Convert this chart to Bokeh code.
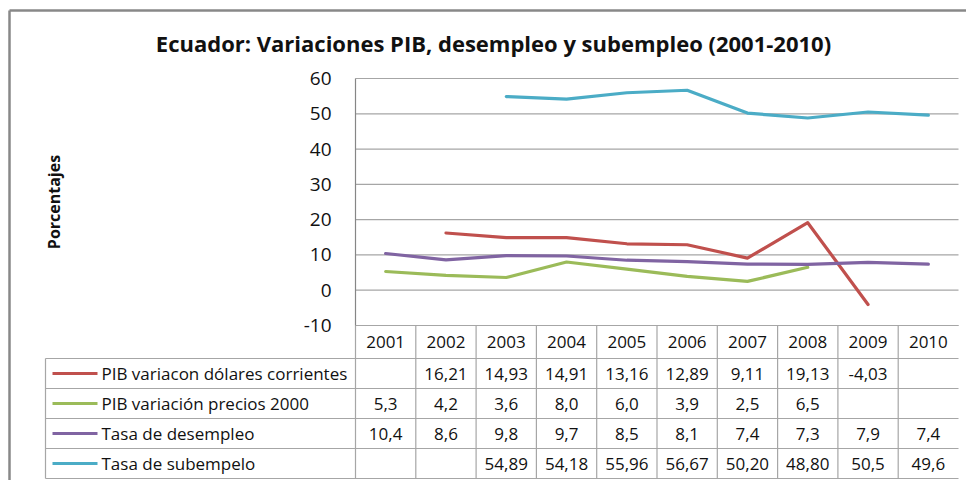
from bokeh.plotting import figure
from bokeh.models import Range1d, FixedTicker, PrintfTickFormatter
from bokeh.embed import file_html
from bokeh.resources import INLINE
from bokeh.core.properties import value

# ---------------- data ----------------
years = ["2001", "2002", "2003", "2004", "2005", "2006", "2007", "2008", "2009", "2010"]
series_names = ["PIB variacon dólares corrientes", "PIB variación precios 2000",
                "Tasa de desempleo", "Tasa de subempelo"]
pib_corrientes = [None, 16.21, 14.93, 14.91, 13.16, 12.89, 9.11, 19.13, -4.03, None]
pib_precios_2000 = [5.3, 4.2, 3.6, 8.0, 6.0, 3.9, 2.5, 6.5, None, None]
tasa_desempleo = [10.4, 8.6, 9.8, 9.7, 8.5, 8.1, 7.4, 7.3, 7.9, 7.4]
tasa_subempleo = [None, None, 54.89, 54.18, 55.96, 56.67, 50.20, 48.80, 50.5, 49.6]
decimales = [[2] * 10, [1] * 10, [1] * 10, [2, 2, 2, 2, 2, 2, 2, 2, 1, 1]]
y_ticks = [-10, 0, 10, 20, 30, 40, 50, 60]
title_text = "Ecuador: Variaciones PIB, desempleo y subempleo (2001-2010)"
y_label = "Porcentajes"

series = [pib_corrientes, pib_precios_2000, tasa_desempleo, tasa_subempleo]
colors = ["#C0504D", "#9BBB59", "#8064A2", "#4BACC6"]

FONT = "Open Sans"
TXT = "#111111"
GRID = "#A6A6A6"

# ---------------- layout in pixels ----------------
W, H = 966, 480
PL, PR, PT, PB = 355, 958, 78, 325      # plot area
TL = 45                                 # table left edge
HDR_B = 358                             # bottom of header row
ROW_H = 30

n = len(years)
xs = list(range(1, n + 1))
ymin, ymax = y_ticks[0], y_ticks[-1]
px_x = (PR - PL) / n
px_y = (PB - PT) / (ymax - ymin)


def X(px):
    return 0.5 + (px - PL) / px_x


def Y(py):
    return ymax - (py - PT) / px_y


p = figure(width=W, height=H, output_backend="svg", toolbar_location=None,
           x_range=Range1d(X(0), X(W)), y_range=Range1d(Y(H), Y(0)),
           x_axis_location=None, min_border_left=0, min_border_right=0,
           min_border_top=0, min_border_bottom=0)
p.outline_line_color = None
p.grid.visible = False

# outer chart border
p.segment(x0=[X(9), X(9)], y0=[Y(10), Y(10)], x1=[X(9), X(W)], y1=[Y(H), Y(10)],
          line_color="#888888", line_width=2.5)

# horizontal grid lines of the plot area
p.segment(x0=[0.5] * len(y_ticks), x1=[n + 0.5] * len(y_ticks), y0=y_ticks, y1=y_ticks,
          line_color=GRID, line_width=1.2)

# y axis placed at the left edge of the plot area
ax = p.yaxis[0]
ax.fixed_location = 0.5
ax.bounds = (ymin, ymax)
ax.ticker = FixedTicker(ticks=y_ticks)
ax.formatter = PrintfTickFormatter(format="%d")
ax.major_tick_line_color = None
ax.minor_tick_line_color = None
ax.axis_line_color = "#868686"
ax.axis_line_width = 1.2
ax.major_label_standoff = 18
ax.major_label_text_font = FONT
ax.major_label_text_font_size = "19px"
ax.major_label_text_color = TXT
ax.axis_label = y_label
ax.axis_label_text_font = FONT
ax.axis_label_text_font_style = "bold"
ax.axis_label_text_font_size = "16px"
ax.axis_label_text_color = TXT
ax.axis_label_standoff = 236

# series lines
for vals, col in zip(series, colors):
    ys = [float("nan") if v is None else v for v in vals]
    p.line(xs, ys, line_color=col, line_width=3.2, line_join="round", line_cap="round")

# title
p.text(x=[X(493)], y=[Y(42)], text=[title_text], text_align="center", text_baseline="middle",
       text_font=value(FONT), text_font_style="bold", text_font_size="22px", text_color=TXT)

# ---------------- data table ----------------
nrows = len(series)
row_bounds = [HDR_B + ROW_H * r for r in range(nrows + 1)]
bottom = Y(row_bounds[-1])
sx0, sy0, sx1, sy1 = [], [], [], []
sx0.append(0.5); sx1.append(n + 0.5); sy0.append(ymin); sy1.append(ymin)
for rb in row_bounds:
    sx0.append(X(TL)); sx1.append(n + 0.5); sy0.append(Y(rb)); sy1.append(Y(rb))
for k in range(n):
    sx0.append(0.5 + k); sx1.append(0.5 + k); sy0.append(ymin); sy1.append(bottom)
sx0.append(X(TL)); sx1.append(X(TL)); sy0.append(Y(HDR_B)); sy1.append(bottom)
p.segment(x0=sx0, y0=sy0, x1=sx1, y1=sy1, line_color=GRID, line_width=1.2)

# header row
p.text(x=xs, y=[Y((PB + HDR_B) / 2)] * n, text=years, text_align="center",
       text_baseline="middle", text_font=value(FONT), text_font_size="17px", text_color=TXT)

# value cells
row_y = [Y(HDR_B + ROW_H * (r + 0.5)) for r in range(nrows)]
tx, ty, tt = [], [], []
for r, (vals, decs) in enumerate(zip(series, decimales)):
    for i, (v, d) in enumerate(zip(vals, decs)):
        if v is None:
            continue
        tx.append(xs[i]); ty.append(row_y[r])
        tt.append(f"{v:.{d}f}".replace(".", ","))
p.text(x=tx, y=ty, text=tt, text_align="center", text_baseline="middle",
       text_font=value(FONT), text_font_size="17px", text_color=TXT)

# legend keys and names
p.segment(x0=[X(52)] * nrows, x1=[X(97)] * nrows, y0=row_y, y1=row_y,
          line_color=colors, line_width=3.2)
p.text(x=[X(101)] * nrows, y=row_y, text=series_names, text_align="left",
       text_baseline="middle", text_font=value(FONT), text_font_size="17px", text_color=TXT)

open("out.html", "w").write(file_html(p, INLINE))
